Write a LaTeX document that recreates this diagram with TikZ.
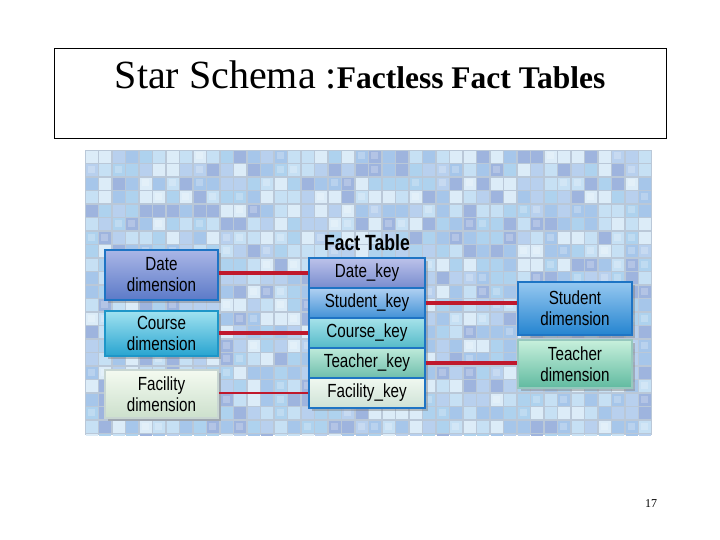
\documentclass[tikz,border=0pt]{standalone}
\usepackage{fontspec}
\setmainfont{Liberation Serif}
\newfontfamily\boxfont[FakeStretch=0.8]{Liberation Sans}
\usetikzlibrary{shadows}
\definecolor{tA}{HTML}{AED2EE}
\definecolor{tB}{HTML}{C6E0F4}
\definecolor{tC}{HTML}{9EB4DE}
\definecolor{tD}{HTML}{DCECF8}
\definecolor{tE}{HTML}{A6C6EA}
\definecolor{tF}{HTML}{B8D0EE}
\definecolor{grout}{HTML}{BAC8D8}
\definecolor{linkred}{HTML}{C0182C}
\definecolor{edge}{HTML}{1E74C4}
\tikzset{
  cell/.style={draw=edge, line width=1.2pt, inner sep=0pt, align=center,
    font=\boxfont\fontsize{19}{21}\selectfont,
    drop shadow={opacity=0.45, shadow xshift=3pt, shadow yshift=-3pt}},
  dimbox/.style={cell, minimum width=113pt},
  keybox/.style={cell, minimum width=116pt, minimum height=30pt, drop shadow={opacity=0}},
  link/.style={draw=linkred, line width=4pt},
  thinlink/.style={draw=linkred, line width=2pt}
}
\begin{document}
\begin{tikzpicture}[x=1pt, y=-1pt]
\useasboundingbox (0,0) rectangle (720,540);
% title box
\draw[line width=0.9pt] (54,48) rectangle (666,138);
\node[anchor=base, inner sep=0pt] (title) at (360,89)
  {{\fontsize{40}{44}\selectfont Star Schema :}{\fontsize{31.5}{36}\selectfont\bfseries Factless Fact Tables}};
% mosaic background
\fill[grout] (85,150) rectangle (652,435);
\begin{scope}
\clip (85,150) rectangle (652,435);
\pgfmathsetseed{11}
\foreach \i in {0,...,42} {
  \foreach \j in {0,...,21} {
    \pgfmathrandominteger{\r}{0}{5}
    \pgfmathparse{{"tA","tB","tC","tD","tE","tF"}[\r]}
    \edef\tc{\pgfmathresult}
    \fill[\tc] (85+\i*13.5+0.8, 150+\j*13.5+0.8) rectangle ++(12,12);
    \pgfmathrandominteger{\q}{0}{3}
    \ifnum\q=0
      \fill[white, opacity=0.22] (85+\i*13.5+2.5, 150+\j*13.5+2.5) rectangle ++(7,7);
    \fi
  }
}
\end{scope}
% fact table
\node[font=\boxfont\bfseries\fontsize{22}{23}\selectfont, inner sep=0pt] (ftlabel) at (367,243) {Fact Table};
\node[keybox, top color={rgb,255:red,188;green,194;blue,234}, bottom color={rgb,255:red,120;green,140;blue,206}] (dk) at (367,273) {Date\_key};
\node[keybox, top color={rgb,255:red,176;green,208;blue,242}, bottom color={rgb,255:red,66;green,146;blue,214}] (sk) at (367,303) {Student\_key};
\node[keybox, top color={rgb,255:red,166;green,226;blue,234}, bottom color={rgb,255:red,84;green,186;blue,200}] (ck) at (367,333) {Course\_key};
\node[keybox, top color={rgb,255:red,190;green,234;blue,218}, bottom color={rgb,255:red,110;green,190;blue,172}] (tk) at (367,363) {Teacher\_key};
\node[keybox, top color={rgb,255:red,240;green,248;blue,240}, bottom color={rgb,255:red,206;green,226;blue,214}] (fk) at (367,393) {Facility\_key};
% left dimensions
\node[dimbox, minimum height=50pt, top color={rgb,255:red,170;green,182;blue,230}, bottom color={rgb,255:red,92;green,122;blue,200}] (dd) at (161.5,275) {Date\\dimension};
\node[dimbox, minimum height=45pt, top color={rgb,255:red,160;green,226;blue,240}, bottom color={rgb,255:red,40;green,164;blue,208}, draw={rgb,255:red,30;green,150;blue,200}] (cd) at (161.5,333.5) {Course\\dimension};
\node[dimbox, minimum height=48pt, top color={rgb,255:red,244;green,250;blue,240}, bottom color={rgb,255:red,204;green,224;blue,204}, draw={rgb,255:red,200;green,214;blue,210}] (fd) at (161.5,394) {Facility\\dimension};
% right dimensions
\node[dimbox, minimum width=114pt, minimum height=53pt, top color={rgb,255:red,150;green,200;blue,240}, bottom color={rgb,255:red,36;green,132;blue,208}] (sd) at (575,308.5) {Student\\dimension};
\node[dimbox, minimum width=114pt, minimum height=48pt, top color={rgb,255:red,200;green,240;blue,220}, bottom color={rgb,255:red,96;green,186;blue,160}, draw={rgb,255:red,150;green,200;blue,190}] (td) at (575,364) {Teacher\\dimension};
% links
\draw[link] (dk.west) -- (dk.west -| dd.east);
\draw[link] (ck.west) -- (ck.west -| cd.east);
\draw[thinlink] (fk.west) -- (fk.west -| fd.east);
\draw[link] (sk.east) -- (sk.east -| sd.west);
\draw[link] (tk.east) -- (tk.east -| td.west);
% page number
\node[font=\fontsize{12}{14}\selectfont, inner sep=0pt] (pg) at (651,504) {17};
\end{tikzpicture}
\end{document}
